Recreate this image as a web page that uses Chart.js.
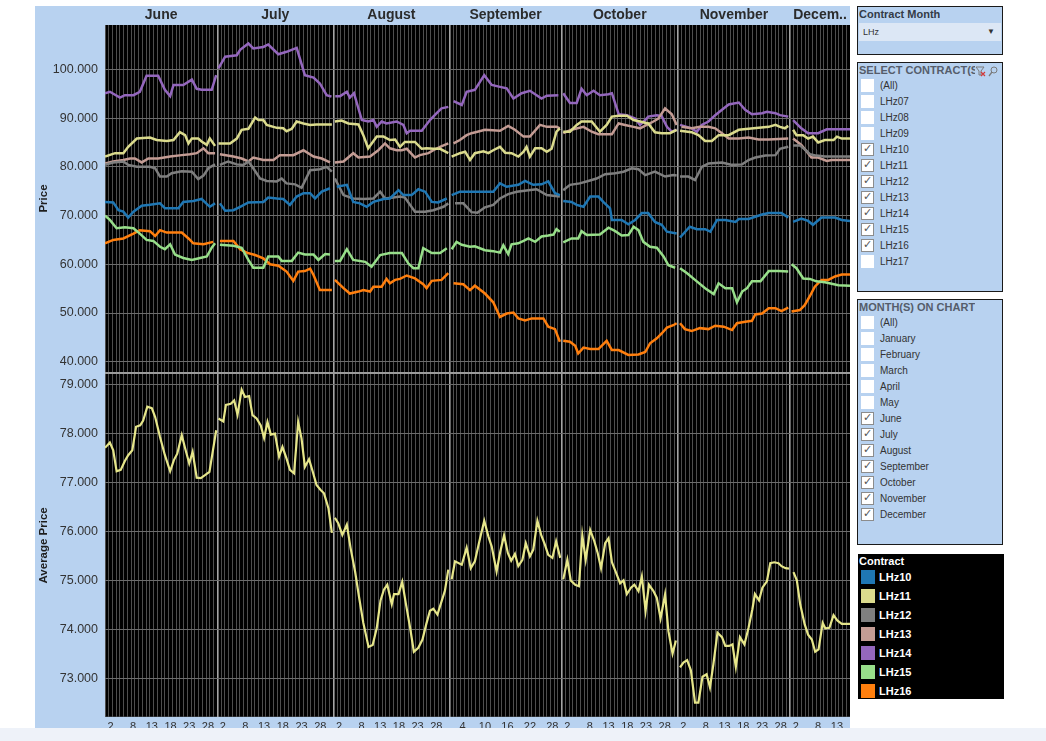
<!DOCTYPE html>
<html>
<head>
<meta charset="utf-8">
<script src="https://cdn.jsdelivr.net/npm/chart.js@4.4.1/dist/chart.umd.min.js"></script>
<style>
  html, body { margin:0; padding:0; background:#ffffff; }
  body { width:1046px; height:741px; position:relative; overflow:hidden; font-family:"Liberation Sans", Arial, sans-serif; }
  .wrap { position:absolute; background:#b8d2f0; }
  #topWrap { left:35px; top:6px; width:815px; height:366px; }
  #botWrap { left:35px; top:372px; width:815px; height:369px; }
  #band { position:absolute; left:0; top:728px; width:1046px; height:13px; background:#eef2f9; z-index:10; }
  .panel { position:absolute; left:857px; width:146px; background:#b8d2f0; border:1px solid #1a1a1a; box-sizing:border-box; }
  .ptitle { position:absolute; left:1px; top:1px; font-size:11px; font-weight:bold; white-space:nowrap; overflow:hidden; }
  .row { position:absolute; left:0; height:16px; width:140px; }
  .cb { position:absolute; left:3px; top:1px; width:13px; height:13px; background:#fff; box-sizing:border-box; }
  .cb.on { border:1px solid #8c8c8c; }
  .cb.on::after { content:"\2713"; position:absolute; left:1px; top:-2px; font-size:11px; color:#555; font-family:"DejaVu Sans", sans-serif; }
  .lbl { position:absolute; left:22px; top:0px; font-size:10px; color:#333; line-height:15px; white-space:nowrap; }
  #dd { position:absolute; left:1px; top:16px; width:142px; height:18px; background:#dce7f5; }
  #dd span.t { position:absolute; left:4px; top:0; line-height:18px; font-size:9px; color:#333; }
  #dd span.a { position:absolute; right:6px; top:0; line-height:18px; font-size:8px; color:#333; }
  #legend { position:absolute; left:858px; top:554px; width:146px; height:145px; background:#000; }
  #legend .lt { position:absolute; left:1px; top:1px; color:#fff; font-weight:bold; font-size:11px; }
  #legend .sw { position:absolute; left:3px; width:14px; height:14px; }
  #legend .ln { position:absolute; left:21px; color:#fff; font-weight:bold; font-size:11px; line-height:14px; }
</style>
</head>
<body>
<div id="topWrap" class="wrap"><canvas id="topChart"></canvas></div>
<div id="botWrap" class="wrap"><canvas id="botChart"></canvas></div>
<div id="band"></div>

<div class="panel" style="top:6px;height:49px;">
  <div class="ptitle" style="color:#333b47;">Contract Month</div>
  <div id="dd"><span class="t">LHz</span><span class="a">&#9660;</span></div>
</div>
<div class="panel" id="p2" style="top:62px;height:230px;">
  <div class="ptitle" style="color:#555d6b;width:116px;">SELECT CONTRACT(S)</div>
  <svg style="position:absolute;left:117px;top:3px" width="24" height="11" viewBox="0 0 24 11">
    <path d="M1 1 L9 1 L6 5 L6 9 L4 9 L4 5 Z" fill="none" stroke="#7a7a7a" stroke-width="1"/>
    <path d="M6 6 L10 10 M10 6 L6 10" stroke="#d23a3a" stroke-width="1.2"/>
    <circle cx="19" cy="4" r="3" fill="none" stroke="#7a7a7a" stroke-width="1"/>
    <path d="M17 6 L14 10" stroke="#7a7a7a" stroke-width="1.3"/>
  </svg>
</div>
<div class="panel" id="p3" style="top:299px;height:246px;">
  <div class="ptitle" style="color:#555d6b;">MONTH(S) ON CHART</div>
</div>
<div id="legend"><div class="lt">Contract</div></div>

<script>
// ---------------- data ----------------
const contracts = ['LHz10','LHz11','LHz12','LHz13','LHz14','LHz15','LHz16'];
const colors = ['#1f77b4','#dbdb8d','#7f7f7f','#c49c94','#9467bd','#98df8a','#ff7f0e'];
const avgColor = '#e6e68a';

const monthNames = ['June','July','August','September','October','November','December'];
// day offset (from June 1) at which each month begins; axis ends mid-December
const monthStart = [0, 30, 61, 92, 122, 153, 183];
const dayAxisEnd = 199;
const dayTickLabels = [[2,8,13,18,23,28],[2,8,13,18,23,28],[2,8,13,18,23,28],[4,10,16,22,28],[2,8,13,18,23,28],[2,8,13,18,23,28],[2,8,13]];

const filterContracts = ['(All)','LHz07','LHz08','LHz09','LHz10','LHz11','LHz12','LHz13','LHz14','LHz15','LHz16','LHz17'];
const filterMonths = ['(All)','January','February','March','April','May','June','July','August','September','October','November','December'];

// [day offset from June 1, price]
const lhz10 = [[0,72.8],[2.2,72.7],[3.6,71.1],[4.9,70.8],[6.2,69.6],[7.6,70.8],[9.8,72.0],[12.0,72.2],[14.7,72.5],[16.0,71.5],[19.6,71.5],[20.9,72.8],[23.6,73.0],[25.8,73.4],[28.0,71.8],[29.4,72.5],
[30.7,72.5],[32.1,71.0],[34.3,71.1],[36.1,71.8],[38.3,72.7],[42.3,72.8],[43.6,73.7],[45.9,73.5],[47.6,73.4],[49.4,72.2],[51.2,73.9],[53.0,74.6],[54.8,74.6],[56.1,73.5],[57.9,74.9],[60.1,75.6],
[61.9,75.9],[64.6,76.3],[66.3,72.8],[68.1,72.5],[69.9,71.8],[71.7,72.8],[74.4,73.4],[76.1,73.5],[78.4,75.2],[79.7,74.2],[81.9,74.2],[83.7,75.4],[85.5,74.9],[87.3,72.8],[89.0,72.7],[91.3,73.5],
[92.6,74.2],[94.8,74.9],[97.5,74.9],[100.6,74.9],[103.7,74.9],[105.5,76.6],[107.3,75.9],[110.4,76.3],[112.2,77.1],[114.4,76.3],[116.6,76.4],[118.4,77.0],[120.2,74.6],[121.5,74.2],
[122.4,73.0],[124.6,72.8],[126.0,72.2],[127.8,71.8],[129.6,73.9],[131.8,73.9],[133.1,72.8],[134.9,71.5],[135.4,69.1],[138.0,69.1],[139.8,68.2],[141.6,69.1],[143.4,70.5],[145.1,70.5],[146.9,68.7],[148.7,68.1],[150.1,66.7],[152.7,66.3],
[153.6,65.5],[156.2,67.7],[158.1,67.2],[160.3,67.2],[161.7,66.7],[163.5,69.1],[165.7,69.1],[168.4,68.7],[169.3,69.3],[171.9,69.3],[175.5,70.2],[177.3,70.5],[180.7,70.5],[182.5,69.6],
[183.8,68.7],[186.0,69.4],[187.8,68.9],[189.1,68.1],[191.4,69.6],[195.0,69.6],[196.8,69.1],[199.0,68.9]];

const lhz11 = [[0,82.1],[2.7,82.8],[4.9,82.8],[6.2,84.1],[8.5,85.8],[12.0,86.0],[13.8,85.5],[16.5,85.3],[18.3,85.5],[20.0,87.1],[21.4,86.5],[22.3,84.8],[23.2,85.8],[24.9,85.8],[25.8,85.2],[27.2,84.5],[28.0,85.8],[29.4,84.3],
[30.3,84.8],[33.4,84.8],[35.2,85.8],[36.5,87.6],[38.3,87.8],[40.1,90.1],[41.0,89.6],[42.3,89.6],[43.2,88.6],[45.9,88.0],[47.6,87.9],[48.5,87.3],[49.9,87.8],[51.2,89.3],[53.0,88.9],[54.8,88.6],[56.5,88.7],[60.6,88.7],
[61.4,89.3],[63.2,89.5],[65.0,88.9],[67.7,88.7],[69.0,86.5],[70.3,83.8],[72.6,86.2],[74.4,86.2],[76.1,85.5],[77.5,85.6],[78.8,84.1],[80.1,85.1],[82.8,85.1],[84.6,83.7],[85.9,83.8],[87.7,83.7],[89.5,83.7],[91.7,82.8],
[92.6,82.1],[94.8,82.8],[96.2,83.1],[97.5,81.4],[98.8,82.8],[101.1,83.2],[102.4,82.8],[103.7,83.4],[105.5,84.1],[106.9,82.9],[108.6,82.8],[110.4,82.1],[111.8,83.1],[112.6,84.1],[113.5,82.1],[114.9,83.8],[116.6,83.8],[118.0,83.1],[119.3,83.7],[120.6,87.2],[121.5,87.9],
[122.4,87.2],[124.2,87.2],[126.0,88.6],[127.3,89.3],[130.0,89.3],[132.2,87.2],[134.0,88.6],[135.4,90.3],[137.2,90.5],[139.4,90.5],[141.2,89.6],[142.9,89.3],[145.1,88.9],[146.9,87.1],[148.7,86.9],[150.9,86.9],[152.7,87.6],
[153.6,87.4],[156.7,87.1],[158.5,86.5],[160.3,85.3],[162.1,85.3],[163.9,86.5],[166.6,86.5],[169.3,87.6],[171.9,87.8],[174.6,88.0],[177.3,88.2],[179.1,88.6],[180.3,88.2],[181.6,87.9],[182.5,88.4],
[183.8,87.6],[184.7,86.5],[186.5,86.5],[187.8,85.8],[189.1,86.2],[190.5,85.0],[192.3,85.5],[194.6,85.5],[195.5,86.2],[196.8,85.8],[199.0,85.8]];

const lhz12 = [[0,80.4],[2.2,80.9],[4.9,81.1],[6.2,80.4],[8.5,80.0],[12.0,80.0],[13.4,79.7],[14.7,78.0],[16.5,78.0],[17.8,78.7],[20.5,79.1],[23.2,79.0],[24.9,77.5],[26.3,78.2],[27.6,79.7],[29.4,80.5],
[30.7,80.4],[32.9,81.1],[35.2,80.5],[37.0,80.4],[38.3,81.1],[39.6,79.7],[41.4,77.6],[43.2,77.1],[45.9,77.0],[47.2,77.6],[48.5,76.6],[50.8,76.4],[52.5,75.7],[54.8,79.3],[57.4,79.5],[59.2,80.0],[60.6,79.0],
[61.4,77.6],[63.7,74.2],[66.3,73.5],[69.0,73.4],[71.7,73.5],[73.5,74.9],[74.8,73.5],[77.0,73.7],[78.8,73.9],[80.1,73.7],[82.8,70.8],[85.5,70.8],[87.7,71.1],[90.4,71.8],[91.7,72.5],
[93.5,72.5],[95.7,72.5],[97.9,70.7],[99.5,70.6],[101.5,71.7],[103.7,72.2],[105.5,73.5],[107.7,74.4],[110.0,74.9],[113.1,75.2],[115.3,75.4],[118.0,74.2],[121.5,73.9],
[122.4,75.2],[124.2,76.3],[126.8,76.6],[129.1,77.1],[131.3,77.6],[133.6,78.5],[136.3,78.7],[138.5,79.0],[140.7,79.7],[142.5,79.5],[144.3,78.3],[146.9,79.0],[149.6,78.0],[151.8,78.3],[152.7,78.2],
[153.6,78.0],[155.8,78.0],[157.6,77.3],[159.4,80.0],[161.2,80.7],[164.8,80.9],[167.5,80.4],[170.2,80.5],[171.9,81.4],[173.7,81.9],[176.4,82.3],[179.1,82.4],[180.3,83.7],[182.5,84.1],
[183.8,84.4],[185.6,84.4],[186.9,83.6],[188.3,82.6],[190.0,82.3],[192.3,82.1],[199.0,82.1]];

const lhz13 = [[0,80.7],[2.2,81.1],[4.9,81.4],[6.7,81.7],[8.0,81.7],[9.8,80.9],[11.6,81.7],[14.2,81.7],[17.4,82.1],[20.5,82.4],[22.7,82.6],[24.5,82.8],[26.3,83.8],[27.6,82.8],[29.4,82.8],
[30.7,82.6],[34.3,82.1],[36.5,81.7],[38.3,81.1],[39.6,81.9],[42.3,81.4],[45.0,81.4],[46.7,82.4],[50.3,82.4],[53.0,83.4],[55.7,82.1],[57.9,81.7],[60.1,80.9],
[61.4,80.9],[63.7,81.1],[66.3,82.8],[67.7,81.9],[70.8,82.1],[73.0,83.4],[74.8,84.8],[76.1,83.8],[77.9,83.4],[79.3,83.4],[80.6,83.7],[82.8,81.9],[84.1,82.4],[86.4,82.8],[87.7,83.4],[89.5,84.1],[91.7,84.8],
[93.1,84.8],[94.8,85.5],[96.6,86.5],[97.9,86.9],[99.5,87.2],[101.5,87.6],[105.5,87.4],[107.7,88.4],[109.5,87.6],[111.8,86.2],[113.5,86.2],[116.2,88.6],[118.0,88.2],[120.6,88.2],[121.5,87.9],
[122.4,86.9],[124.6,87.6],[127.8,88.2],[130.0,87.2],[131.8,86.7],[135.4,86.7],[137.2,88.9],[138.9,88.6],[141.2,88.2],[142.9,87.9],[144.7,88.6],[146.5,89.3],[147.8,89.9],[149.6,92.0],[151.4,90.8],[152.7,88.6],
[154.0,88.2],[156.7,87.9],[158.9,88.2],[161.2,88.2],[163.0,87.9],[164.8,86.9],[166.6,85.8],[169.3,85.8],[171.9,86.0],[174.6,85.6],[177.3,85.6],[182.5,85.8],
[183.8,85.8],[186.0,84.5],[187.8,82.8],[188.7,81.9],[190.5,81.9],[192.8,81.2],[194.1,81.4],[199.0,81.4]];

const lhz14 = [[0,95.1],[1.3,95.4],[4.0,94.2],[5.3,94.7],[7.6,94.7],[9.3,95.4],[11.1,98.7],[14.2,98.7],[16.0,95.8],[17.4,94.5],[18.3,96.8],[20.9,96.8],[23.2,97.9],[24.5,96.0],[25.8,95.8],[28.5,95.8],[29.7,98.8],
[30.3,100.2],[32.1,102.6],[35.2,102.9],[36.1,104.0],[38.3,105.3],[39.6,104.3],[42.3,104.6],[43.6,105.1],[46.3,103.1],[48.5,103.6],[51.2,104.4],[53.4,98.8],[55.7,98.3],[57.4,97.1],[59.2,94.7],[60.5,94.4],
[61.5,94.5],[62.8,94.5],[64.6,95.4],[65.4,94.2],[66.5,95.1],[68.6,89.6],[70.3,89.3],[71.7,89.6],[72.6,88.2],[73.9,89.3],[75.2,88.9],[77.9,89.3],[79.7,88.6],[80.6,86.9],[81.5,87.4],[84.6,87.4],[86.8,89.6],[88.6,91.0],[89.9,92.0],[91.7,92.3],
[93.1,93.5],[95.3,92.7],[96.6,95.4],[98.8,95.8],[101.3,98.8],[103.3,96.8],[105.5,96.4],[107.3,96.1],[109.1,94.0],[111.3,95.1],[113.5,95.6],[115.3,94.7],[116.6,94.0],[118.0,94.6],[121.1,94.7],
[122.4,95.1],[124.2,93.1],[126.0,93.1],[127.3,96.0],[128.7,94.7],[130.5,95.6],[132.2,94.7],[134.5,94.9],[135.4,95.1],[137.2,90.8],[139.4,90.6],[141.6,89.9],[142.9,88.6],[144.3,89.6],[145.1,90.3],[147.4,90.6],[148.7,90.4],[150.1,88.2],[151.4,87.2],[152.7,87.6],
[153.6,88.6],[156.7,87.9],[158.1,87.2],[159.4,88.6],[161.2,89.3],[163.0,90.6],[164.8,91.7],[166.6,92.8],[169.3,93.2],[171.0,91.7],[172.8,90.8],[175.5,91.0],[176.8,91.3],[179.1,91.0],[180.3,90.6],[182.5,90.3],
[183.8,89.6],[186.0,87.9],[187.8,86.9],[190.5,86.9],[192.8,87.7],[199.0,87.7]];

const lhz15 = [[0,70.0],[1.3,69.1],[3.1,67.4],[5.3,67.6],[7.6,67.4],[9.3,66.3],[11.1,65.0],[12.9,64.8],[14.7,63.6],[16.0,63.1],[17.4,64.1],[18.7,62.0],[20.9,61.3],[23.2,60.9],[25.4,61.3],[27.2,61.6],[28.5,63.4],[29.4,64.3],
[30.7,64.0],[34.3,63.8],[36.5,63.4],[38.3,60.9],[39.6,59.3],[42.3,59.3],[43.6,61.6],[46.3,61.6],[47.2,60.7],[49.9,60.7],[51.6,62.4],[53.4,62.0],[55.7,62.0],[57.0,60.9],[58.8,62.1],[60.1,62.0],
[61.4,60.7],[62.8,60.7],[64.6,63.1],[66.3,60.9],[69.5,60.5],[71.2,59.5],[73.5,61.9],[76.1,62.3],[79.3,62.3],[81.0,60.2],[82.4,59.2],[83.7,59.2],[85.0,63.3],[87.3,62.3],[89.5,62.3],[91.3,63.3],
[92.6,63.1],[93.9,64.6],[95.3,64.0],[97.5,63.6],[98.8,63.7],[101.5,62.9],[103.7,62.7],[105.5,62.4],[106.4,63.9],[107.7,62.1],[108.6,64.1],[110.4,64.3],[111.8,64.8],[113.1,65.3],[114.9,64.6],[116.6,65.7],[118.4,65.9],[119.8,66.1],[120.6,67.2],[121.5,66.7],
[122.4,64.5],[124.6,65.3],[126.4,65.3],[127.3,66.8],[128.7,66.0],[132.2,66.1],[134.5,67.5],[136.3,66.8],[138.0,65.9],[139.8,66.0],[141.2,67.7],[142.5,67.0],[143.8,64.6],[145.6,63.6],[147.4,63.4],[149.2,61.6],[150.5,59.8],[152.3,59.3],
[153.6,59.2],[155.4,58.2],[157.6,56.8],[160.3,55.1],[162.6,53.9],[163.9,56.1],[165.7,55.1],[167.5,55.1],[168.8,52.2],[170.2,54.4],[171.5,55.1],[172.8,56.5],[175.1,56.5],[177.3,58.6],[179.9,58.6],[182.5,58.5],
[183.4,60.0],[184.7,59.2],[186.5,57.1],[188.3,57.0],[190.0,56.5],[192.3,56.3],[195.9,55.7],[199.0,55.6]];

const lhz16 = [[0,64.3],[2.2,65.0],[4.9,65.3],[7.6,66.3],[9.3,67.0],[12.0,66.8],[13.4,65.8],[14.7,67.0],[16.5,66.5],[20.5,66.5],[22.3,65.3],[23.6,64.3],[26.3,64.1],[28.9,64.6],
[30.7,64.8],[34.3,64.8],[36.1,63.1],[37.8,62.4],[40.1,61.9],[42.3,61.2],[44.1,60.0],[46.3,59.7],[48.5,58.5],[50.3,56.6],[51.6,58.5],[53.4,58.6],[54.8,59.1],[55.7,57.8],[57.4,54.7],[60.6,54.7],
[61.4,56.8],[63.7,55.1],[65.4,54.0],[67.7,54.4],[69.0,54.7],[70.8,54.4],[71.7,55.4],[73.9,55.4],[75.2,57.0],[76.1,56.1],[77.5,56.8],[78.8,57.0],[80.6,57.7],[82.8,57.1],[85.0,55.9],[85.9,55.1],[87.3,56.6],[89.9,56.8],[91.7,58.2],
[93.1,56.1],[95.7,55.9],[97.5,54.7],[98.8,55.6],[101.5,54.0],[103.7,52.2],[105.5,49.2],[107.3,49.9],[109.1,50.1],[110.4,48.9],[112.2,48.5],[114.0,48.9],[117.1,48.9],[118.4,47.2],[120.2,46.7],[121.5,44.1],
[122.4,44.3],[124.2,44.1],[125.6,43.3],[126.4,41.7],[127.8,42.9],[129.6,42.6],[131.8,42.6],[134.0,44.3],[135.4,42.4],[137.2,42.4],[139.8,41.4],[142.5,41.5],[144.3,42.0],[145.6,43.8],[147.4,44.8],[148.7,45.8],[150.1,47.0],[151.8,47.5],[152.7,47.9],
[153.6,47.9],[154.9,46.7],[156.7,46.3],[158.9,46.9],[161.2,46.7],[163.0,47.4],[165.3,47.2],[167.5,46.5],[168.8,47.9],[171.0,48.2],[172.8,48.4],[173.7,49.7],[175.5,49.9],[177.3,51.0],[179.1,51.0],[180.7,50.4],[182.5,51.1],
[183.4,50.3],[185.6,50.6],[186.9,51.6],[188.3,53.5],[189.6,55.4],[191.4,56.8],[193.2,56.8],[195.0,57.5],[196.8,57.9],[199.0,57.9]];

const avgPrice = [[0,77.71],[1.3,77.82],[2.2,77.66],[3.1,77.23],[4.2,77.26],[5.3,77.44],[6.2,77.56],[7.3,77.66],[8.3,78.14],[9.4,78.17],[10.2,78.27],[11.3,78.55],[12.5,78.52],[13.4,78.34],[14.7,77.93],[16.0,77.56],[17.4,77.23],[18.4,77.46],[19.3,77.59],[20.5,77.97],[21.4,77.70],[22.5,77.39],[23.4,77.63],[24.5,77.10],[25.6,77.09],[26.7,77.15],[27.9,77.22],[29.7,78.07],
[30.3,78.31],[31.6,78.25],[32.3,78.59],[33.6,78.61],[34.5,78.68],[35.4,78.39],[36.5,78.90],[37.4,78.75],[38.5,78.77],[39.4,78.38],[40.5,78.31],[41.6,78.17],[42.5,77.91],[43.4,78.24],[44.3,77.98],[45.4,78.00],[46.5,77.53],[47.4,77.73],[48.5,77.49],[49.4,77.26],[50.5,77.19],[51.6,78.24],[52.5,77.90],[53.4,77.32],[54.5,77.48],[55.5,77.22],[56.5,76.95],[57.6,76.85],[58.5,76.78],[59.7,76.47],[60.6,75.97],
[61.4,76.28],[62.3,76.17],[63.4,75.93],[64.6,76.14],[65.6,75.66],[66.8,75.18],[67.9,74.64],[69.0,74.13],[70.4,73.64],[71.5,73.68],[72.6,74.03],[73.6,74.59],[74.5,74.81],[75.4,74.91],[76.6,74.51],[77.2,74.72],[78.4,74.72],[79.4,74.97],[80.4,74.51],[81.5,74.03],[82.5,73.54],[83.7,73.62],[84.8,73.79],[85.8,74.10],[86.8,74.38],[87.7,74.42],[88.8,74.30],[89.9,74.57],[90.8,74.79],[91.7,75.22],
[92.6,75.02],[93.5,75.39],[95.3,75.32],[96.6,75.67],[97.7,75.25],[98.8,75.39],[100.0,75.80],[101.3,76.22],[102.4,75.90],[103.3,75.69],[104.6,75.18],[105.5,75.56],[106.6,75.92],[107.6,75.56],[108.5,75.40],[109.5,75.54],[110.4,75.29],[111.5,75.42],[112.4,75.76],[113.5,75.49],[114.4,75.63],[115.5,76.22],[116.5,75.93],[117.5,75.73],[118.4,75.52],[119.5,75.46],[120.5,75.80],[121.6,75.46],
[122.4,75.02],[123.5,75.42],[124.4,75.00],[125.6,74.91],[126.6,74.88],[127.5,75.92],[128.4,75.42],[129.6,76.03],[130.7,75.80],[131.6,75.56],[132.5,75.25],[133.6,75.76],[134.5,75.86],[135.4,75.37],[136.4,75.18],[137.6,74.94],[138.5,75.00],[139.4,74.72],[140.5,74.85],[141.4,74.91],[142.5,74.78],[143.4,75.08],[144.4,74.38],[145.3,74.91],[146.5,74.78],[147.4,74.64],[148.4,74.22],[149.6,74.71],[150.5,73.96],[151.6,73.50],[152.5,73.77],
[153.6,73.22],[154.5,73.32],[155.5,73.37],[156.5,73.16],[157.6,72.50],[158.5,72.50],[159.6,73.03],[160.7,73.08],[161.6,72.81],[162.5,73.28],[163.6,73.93],[164.8,73.84],[165.7,73.66],[166.7,73.66],[167.6,73.69],[168.5,73.23],[169.6,73.84],[170.8,73.69],[171.9,74.03],[172.9,74.40],[173.6,74.72],[174.7,74.59],[175.6,74.85],[176.8,74.98],[177.7,75.35],[178.8,75.37],[179.9,75.35],[180.7,75.29],[181.8,75.25],[182.7,75.24],
[183.9,75.17],[184.8,75.00],[185.7,74.51],[186.9,74.10],[187.8,73.89],[188.8,73.79],[189.7,73.54],[190.6,73.59],[191.7,74.13],[192.4,74.02],[193.5,74.03],[194.6,74.29],[195.6,74.18],[196.8,74.11],[199.0,74.11]];

const contractSeries = [lhz10, lhz11, lhz12, lhz13, lhz14, lhz15, lhz16];

// ---------------- helpers ----------------
const FONT = '"Liberation Sans", Arial, sans-serif';
function monthIndex(d) { let m = 0; for (let k = 1; k < monthStart.length; k++) if (d >= monthStart[k]) m = k; return m; }
function toPoints(pairs) {
  const out = [];
  pairs.forEach((p, i) => {
    if (i > 0 && monthIndex(p[0]) !== monthIndex(pairs[i - 1][0])) out.push({ x: monthStart[monthIndex(p[0])], y: null });
    out.push({ x: p[0], y: p[1] });
  });
  return out;
}
const isBoundary = v => monthStart.indexOf(v) > 0;
const dayGridTicks = () => Array.from({ length: dayAxisEnd + 1 }, (_, i) => ({ value: i }));
const dayLabelList = [];
dayTickLabels.forEach((days, m) => days.forEach(d => dayLabelList.push({ value: monthStart[m] + d - 0.5, label: String(d) })));

function dayGridAxis() {
  return {
    type: 'linear', min: 0, max: dayAxisEnd,
    afterBuildTicks: s => { s.ticks = dayGridTicks(); },
    ticks: { display: false },
    grid: {
      drawTicks: false,
      color: c => (c.tick && isBoundary(c.tick.value)) ? '#a4a4a4' : '#4e4e4e',
      lineWidth: c => (c.tick && isBoundary(c.tick.value)) ? 1.6 : 1
    },
    border: { display: false }
  };
}
function valueAxis(title, min, max, step) {
  return {
    min: min, max: max,
    afterFit: s => { s.width = 70; s.paddingTop = 0; s.paddingBottom = 0; },
    ticks: { stepSize: step, includeBounds: false, callback: v => Number(v).toFixed(3), color: '#333', font: { size: 12.5, family: FONT }, padding: 7 },
    grid: { color: '#6c6c6c', lineWidth: 1, drawTicks: false },
    border: { display: false },
    title: { display: true, text: title, color: '#1e1e1e', font: { size: 11.5, weight: 'bold', family: FONT }, padding: { top: 2, bottom: 0 } }
  };
}
const paneBg = { id: 'paneBg', beforeDraw(chart) { const { ctx, chartArea: a } = chart; ctx.save(); ctx.fillStyle = '#000'; ctx.fillRect(a.left, a.top, a.right - a.left, a.bottom - a.top); ctx.restore(); } };
const monthHeader = { id: 'monthHeader', afterDraw(chart) {
  const { ctx, chartArea: a, scales: { x } } = chart;
  ctx.save(); ctx.font = 'bold 14px ' + FONT; ctx.fillStyle = '#2b2b2b'; ctx.textAlign = 'center'; ctx.textBaseline = 'middle';
  monthNames.forEach((name, i) => {
    const l = x.getPixelForValue(monthStart[i]);
    const r = x.getPixelForValue(i + 1 < monthStart.length ? monthStart[i + 1] : dayAxisEnd);
    let t = name; const maxW = r - l - 4;
    if (ctx.measureText(t).width > maxW) { while (t.length > 1 && ctx.measureText(t + '..').width > maxW) t = t.slice(0, -1); t += '..'; }
    ctx.fillText(t, (l + r) / 2, a.top - 9.5);
  });
  ctx.restore();
} };
const paneSep = { id: 'paneSep', afterDraw(chart) { const { ctx, chartArea: a } = chart; ctx.save(); ctx.strokeStyle = '#9c9c9c'; ctx.lineWidth = 2; ctx.beginPath(); ctx.moveTo(a.left, a.top - 1); ctx.lineTo(a.right, a.top - 1); ctx.stroke(); ctx.restore(); } };

const common = { responsive: true, maintainAspectRatio: false, animation: false, events: [], plugins: { legend: { display: false }, tooltip: { enabled: false } } };

// ---------------- top chart ----------------
new Chart(document.getElementById('topChart'), {
  type: 'line',
  data: { datasets: contracts.map((name, i) => ({ label: name, data: toPoints(contractSeries[i]), borderColor: colors[i], backgroundColor: colors[i], borderWidth: 2.5, pointRadius: 0, tension: 0, spanGaps: false })) },
  options: Object.assign({}, common, {
    layout: { padding: { top: 19, left: 0, right: 0, bottom: 0 }, autoPadding: false },
    scales: { x: dayGridAxis(), y: valueAxis('Price', 37.9, 109.1, 10) }
  }),
  plugins: [paneBg, monthHeader]
});

// ---------------- bottom chart ----------------
new Chart(document.getElementById('botChart'), {
  type: 'line',
  data: { datasets: [{ label: 'Average Price', data: toPoints(avgPrice), borderColor: avgColor, backgroundColor: avgColor, borderWidth: 2.2, pointRadius: 0, tension: 0, spanGaps: false }] },
  options: Object.assign({}, common, {
    layout: { padding: { top: 2, left: 0, right: 0, bottom: 3 }, autoPadding: false },
    scales: {
      x: dayGridAxis(),
      xl: {
        type: 'linear', position: 'bottom', min: 0, max: dayAxisEnd,
        afterBuildTicks: s => { s.ticks = dayLabelList.map(t => ({ value: t.value })); },
        ticks: { autoSkip: false, maxRotation: 0, minRotation: 0, callback: (v, i) => dayLabelList[i] ? dayLabelList[i].label : '', color: '#333', font: { size: 11, family: FONT }, padding: 4 },
        grid: { display: false, drawTicks: false },
        border: { display: false }
      },
      y: valueAxis('Average Price', 72.21, 79.22, 1)
    }
  }),
  plugins: [paneBg, paneSep]
});

// ---------------- filter panels & legend ----------------
function fillList(el, items, checked) {
  items.forEach((t, i) => {
    const r = document.createElement('div');
    r.className = 'row'; r.style.top = (15 + 16 * i) + 'px';
    r.innerHTML = '<span class="cb' + (checked.indexOf(t) >= 0 ? ' on' : '') + '"></span><span class="lbl">' + t + '</span>';
    el.appendChild(r);
  });
}
fillList(document.getElementById('p2'), filterContracts, contracts);
fillList(document.getElementById('p3'), filterMonths, monthNames);
const lg = document.getElementById('legend');
contracts.forEach((c, i) => {
  const sw = document.createElement('div'); sw.className = 'sw'; sw.style.top = (16 + 19 * i) + 'px'; sw.style.background = colors[i]; lg.appendChild(sw);
  const ln = document.createElement('div'); ln.className = 'ln'; ln.style.top = (16 + 19 * i) + 'px'; ln.textContent = c; lg.appendChild(ln);
});
</script>
</body>
</html>
